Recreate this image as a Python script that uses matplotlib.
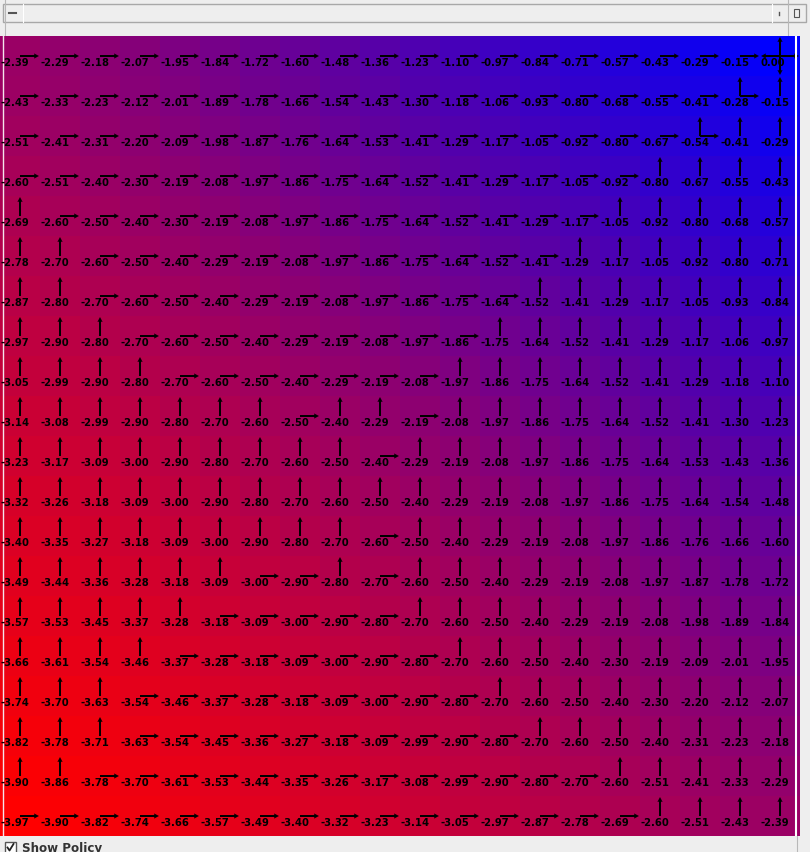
import matplotlib
matplotlib.use("Agg")
import matplotlib.pyplot as plt
import numpy as np
from matplotlib.colors import LinearSegmentedColormap
from matplotlib.patches import Rectangle

# value function of the 20x20 grid, top row first
values = [
    [-2.39, -2.29, -2.18, -2.07, -1.95, -1.84, -1.72, -1.60, -1.48, -1.36, -1.23, -1.10, -0.97, -0.84, -0.71, -0.57, -0.43, -0.29, -0.15, 0.00],
    [-2.43, -2.33, -2.23, -2.12, -2.01, -1.89, -1.78, -1.66, -1.54, -1.43, -1.30, -1.18, -1.06, -0.93, -0.80, -0.68, -0.55, -0.41, -0.28, -0.15],
    [-2.51, -2.41, -2.31, -2.20, -2.09, -1.98, -1.87, -1.76, -1.64, -1.53, -1.41, -1.29, -1.17, -1.05, -0.92, -0.80, -0.67, -0.54, -0.41, -0.29],
    [-2.60, -2.51, -2.40, -2.30, -2.19, -2.08, -1.97, -1.86, -1.75, -1.64, -1.52, -1.41, -1.29, -1.17, -1.05, -0.92, -0.80, -0.67, -0.55, -0.43],
    [-2.69, -2.60, -2.50, -2.40, -2.30, -2.19, -2.08, -1.97, -1.86, -1.75, -1.64, -1.52, -1.41, -1.29, -1.17, -1.05, -0.92, -0.80, -0.68, -0.57],
    [-2.78, -2.70, -2.60, -2.50, -2.40, -2.29, -2.19, -2.08, -1.97, -1.86, -1.75, -1.64, -1.52, -1.41, -1.29, -1.17, -1.05, -0.92, -0.80, -0.71],
    [-2.87, -2.80, -2.70, -2.60, -2.50, -2.40, -2.29, -2.19, -2.08, -1.97, -1.86, -1.75, -1.64, -1.52, -1.41, -1.29, -1.17, -1.05, -0.93, -0.84],
    [-2.97, -2.90, -2.80, -2.70, -2.60, -2.50, -2.40, -2.29, -2.19, -2.08, -1.97, -1.86, -1.75, -1.64, -1.52, -1.41, -1.29, -1.17, -1.06, -0.97],
    [-3.05, -2.99, -2.90, -2.80, -2.70, -2.60, -2.50, -2.40, -2.29, -2.19, -2.08, -1.97, -1.86, -1.75, -1.64, -1.52, -1.41, -1.29, -1.18, -1.10],
    [-3.14, -3.08, -2.99, -2.90, -2.80, -2.70, -2.60, -2.50, -2.40, -2.29, -2.19, -2.08, -1.97, -1.86, -1.75, -1.64, -1.52, -1.41, -1.30, -1.23],
    [-3.23, -3.17, -3.09, -3.00, -2.90, -2.80, -2.70, -2.60, -2.50, -2.40, -2.29, -2.19, -2.08, -1.97, -1.86, -1.75, -1.64, -1.53, -1.43, -1.36],
    [-3.32, -3.26, -3.18, -3.09, -3.00, -2.90, -2.80, -2.70, -2.60, -2.50, -2.40, -2.29, -2.19, -2.08, -1.97, -1.86, -1.75, -1.64, -1.54, -1.48],
    [-3.40, -3.35, -3.27, -3.18, -3.09, -3.00, -2.90, -2.80, -2.70, -2.60, -2.50, -2.40, -2.29, -2.19, -2.08, -1.97, -1.86, -1.76, -1.66, -1.60],
    [-3.49, -3.44, -3.36, -3.28, -3.18, -3.09, -3.00, -2.90, -2.80, -2.70, -2.60, -2.50, -2.40, -2.29, -2.19, -2.08, -1.97, -1.87, -1.78, -1.72],
    [-3.57, -3.53, -3.45, -3.37, -3.28, -3.18, -3.09, -3.00, -2.90, -2.80, -2.70, -2.60, -2.50, -2.40, -2.29, -2.19, -2.08, -1.98, -1.89, -1.84],
    [-3.66, -3.61, -3.54, -3.46, -3.37, -3.28, -3.18, -3.09, -3.00, -2.90, -2.80, -2.70, -2.60, -2.50, -2.40, -2.30, -2.19, -2.09, -2.01, -1.95],
    [-3.74, -3.70, -3.63, -3.54, -3.46, -3.37, -3.28, -3.18, -3.09, -3.00, -2.90, -2.80, -2.70, -2.60, -2.50, -2.40, -2.30, -2.20, -2.12, -2.07],
    [-3.82, -3.78, -3.71, -3.63, -3.54, -3.45, -3.36, -3.27, -3.18, -3.09, -2.99, -2.90, -2.80, -2.70, -2.60, -2.50, -2.40, -2.31, -2.23, -2.18],
    [-3.90, -3.86, -3.78, -3.70, -3.61, -3.53, -3.44, -3.35, -3.26, -3.17, -3.08, -2.99, -2.90, -2.80, -2.70, -2.60, -2.51, -2.41, -2.33, -2.29],
    [-3.97, -3.90, -3.82, -3.74, -3.66, -3.57, -3.49, -3.40, -3.32, -3.23, -3.14, -3.05, -2.97, -2.87, -2.78, -2.69, -2.60, -2.51, -2.43, -2.39],
]

# policy: R = right, U = up, B = up and right, * = all four (goal)
policy = [
    "RRRRRRRRRRRRRRRRRRR*",
    "RRRRRRRRRRRRRRRRRRBU",
    "RRRRRRRRRRRRRRRRRBUU",
    "RRRRRRRRRRRRRRRRUUUU",
    "URRRRRRRRRRRRRRUUUUU",
    "UURRRRRRRRRRRRUUUUUU",
    "UURRRRRRRRRRRUUUUUUU",
    "UUURRRRRRRRRUUUUUUUU",
    "UUUURRRRRRRUUUUUUUUU",
    "UUUUUUURUURUUUUUUUUU",
    "UUUUUUUUURUUUUUUUUUU",
    "UUUUUUUUUUUUUUUUUUUU",
    "UUUUUUUUURUUUUUUUUUU",
    "UUUUUURRURUUUUUUUUUU",
    "UUUUURRRRRUUUUUUUUUU",
    "UUUURRRRRRRUUUUUUUUU",
    "UUURRRRRRRRRUUUUUUUU",
    "UUURRRRRRRRRRUUUUUUU",
    "UURRRRRRRRRRRRRUUUUU",
    "RRRRRRRRRRRRRRRRUUUU",
]

dirs = {"R": [(1, 0)], "U": [(0, -1)], "B": [(0, -1), (1, 0)],
        "*": [(0, -1), (0, 1), (-1, 0), (1, 0)]}

V = np.array(values)
nrow, ncol = V.shape
cell = 40

W, H = 810, 853
fig = plt.figure(figsize=(W / 100, H / 100), dpi=100)
fig.patch.set_facecolor("#eeeeee")

# window chrome
bg = fig.add_axes([0, 0, 1, 1])
bg.set_xlim(0, W)
bg.set_ylim(H, 0)
bg.axis("off")
bg.add_patch(Rectangle((3, 5), 803, 17.5, facecolor="#eeeeee", edgecolor="#a8a8a8", lw=1))
for xx in [5, 788]:
    bg.plot([xx, xx], [0, 37], color="#b8b8b8", lw=0.8)
for xx in [23, 772]:
    bg.plot([xx, xx], [5, 22.5], color="#ffffff", lw=0.8)
bg.plot([9, 16], [14, 14], color="#555555", lw=1.5)
bg.add_patch(Rectangle((794, 10), 5, 8, facecolor="none", edgecolor="#555555", lw=0.8))
bg.plot([779, 779], [13, 16], color="#555555", lw=1)
bg.add_patch(Rectangle((5, 843), 10.5, 12, facecolor="white", edgecolor="#555555", lw=1))
bg.plot([7.5, 9.5, 13.5], [848.5, 851.5, 845], color="#222222", lw=1.3)
bg.text(22, 852.5, "Show Policy", fontsize=8.6, fontweight="bold", family="DejaVu Sans",
        color="#333333", va="baseline", ha="left")
bg.plot([797, 797], [837, 853], color="#b8b8b8", lw=0.8)

# value grid
ax = fig.add_axes([0, 16 / H, 800 / W, 800 / H])
cmap = LinearSegmentedColormap.from_list("rb", [(1, 0, 0), (0, 0, 1)])
ax.imshow(V, cmap=cmap, vmin=V.min(), vmax=V.max(), extent=(0, ncol * cell, nrow * cell, 0),
          interpolation="nearest", aspect="auto")
ax.set_xlim(0, ncol * cell)
ax.set_ylim(nrow * cell, 0)
ax.axis("off")

xs, ys, us, vs = [], [], [], []
for r in range(nrow):
    for c in range(ncol):
        ax.text(c * cell + 0.7, r * cell + 29, f"{V[r, c]:.2f}", fontsize=7.2,
                fontweight="bold", family="DejaVu Sans", color="black",
                va="baseline", ha="left")
        for dx, dy in dirs[policy[r][c]]:
            xs.append(c * cell + 20)
            ys.append(r * cell + 20)
            us.append(dx * 19)
            vs.append(dy * 19)

ax.quiver(xs, ys, us, vs, angles="xy", scale_units="xy", scale=1, units="dots",
          width=2, headwidth=2.6, headlength=2.5, headaxislength=2.3, color="black")

ax.plot([2.5, 2.5], [0, 800], color="#f4e4ea", lw=1)
ax.plot([796, 796], [0, 800], color="white", lw=1.5)

fig.savefig("out.png", dpi=100, facecolor=fig.get_facecolor())
